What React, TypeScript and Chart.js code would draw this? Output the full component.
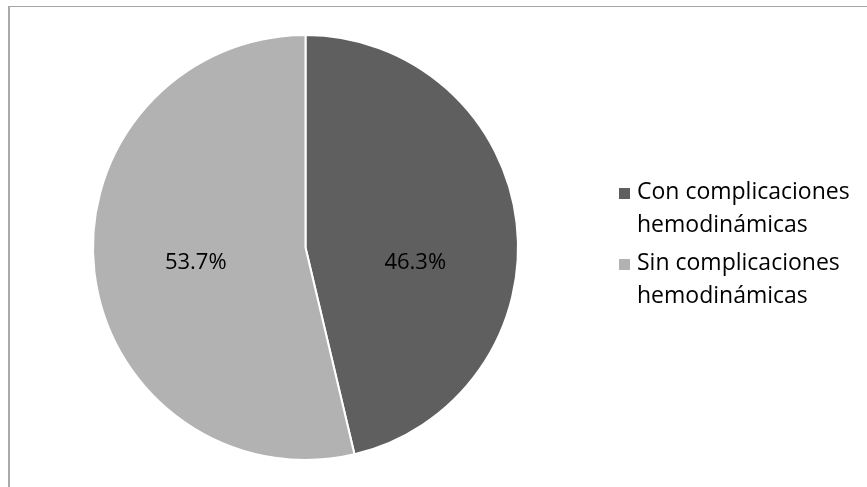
import React, { useEffect, useRef } from "react";
import { Chart, registerables } from "chart.js";

Chart.register(...registerables);

const categories: string[][] = [
  ["Con complicaciones", "hemodinámicas"],
  ["Sin complicaciones", "hemodinámicas"],
];
const values: number[] = [46.3, 53.7];
const sliceColors: string[] = ["#5f5f5f", "#b2b2b2"];
const valueLabels: string[] = ["46.3%", "53.7%"];

const W = 867;
const H = 487;

export default function App() {
  const ref = useRef<HTMLCanvasElement | null>(null);

  useEffect(() => {
    document.body.style.margin = "0";
    const canvas = ref.current;
    if (!canvas) return;

    const labelPlugin = {
      id: "sliceLabels",
      afterDatasetsDraw(chart: any) {
        const ctx = chart.ctx;
        const meta = chart.getDatasetMeta(0);
        ctx.save();
        ctx.font = '22px "Open Sans"';
        ctx.fillStyle = "#000";
        ctx.textAlign = "center";
        ctx.textBaseline = "alphabetic";
        meta.data.forEach((arc: any, i: number) => {
          const mid = (arc.startAngle + arc.endAngle) / 2;
          const r = arc.outerRadius;
          const x = arc.x + Math.cos(mid) * r * 0.52;
          const y = arc.y + r * 0.1;
          ctx.fillText(valueLabels[i], x, y);
        });
        ctx.restore();
      },
      afterDraw(chart: any) {
        const ctx = chart.ctx;
        ctx.save();
        ctx.font = '23px "Open Sans"';
        ctx.textAlign = "left";
        ctx.textBaseline = "alphabetic";
        let baseline = 199;
        categories.forEach((lines, i) => {
          ctx.fillStyle = sliceColors[i];
          ctx.fillRect(619, baseline - 11, 11, 11);
          ctx.fillStyle = "#000";
          lines.forEach((line, j) => {
            ctx.fillText(line, 637, baseline + j * 33);
          });
          baseline += 33 * lines.length + 5;
        });
        ctx.restore();
      },
    };

    const chart = new Chart(canvas, {
      type: "pie",
      data: {
        labels: categories.map((c) => c.join(" ")),
        datasets: [
          {
            data: values,
            backgroundColor: sliceColors,
            borderColor: "#ffffff",
            borderWidth: 2,
          },
        ],
      },
      options: {
        responsive: false,
        animation: false,
        radius: 212.5,
        layout: { padding: { left: 0, right: 256, top: 20, bottom: 12 } },
        plugins: {
          legend: { display: false },
          tooltip: { enabled: false },
        },
      } as any,
      plugins: [labelPlugin],
    });
    return () => chart.destroy();
  }, []);

  return (
    <div style={{ position: "relative", width: W, height: H, overflow: "hidden", background: "#fff" }}>
      <div
        style={{
          position: "absolute",
          left: 8,
          top: 6,
          width: W,
          height: H,
          borderTop: "1px solid #a6a6a6",
          borderLeft: "2px solid #aaaaaa",
          boxSizing: "border-box",
        }}
      />
      <canvas ref={ref} width={W} height={H} style={{ position: "absolute", left: 0, top: 0, width: W, height: H }} />
    </div>
  );
}
